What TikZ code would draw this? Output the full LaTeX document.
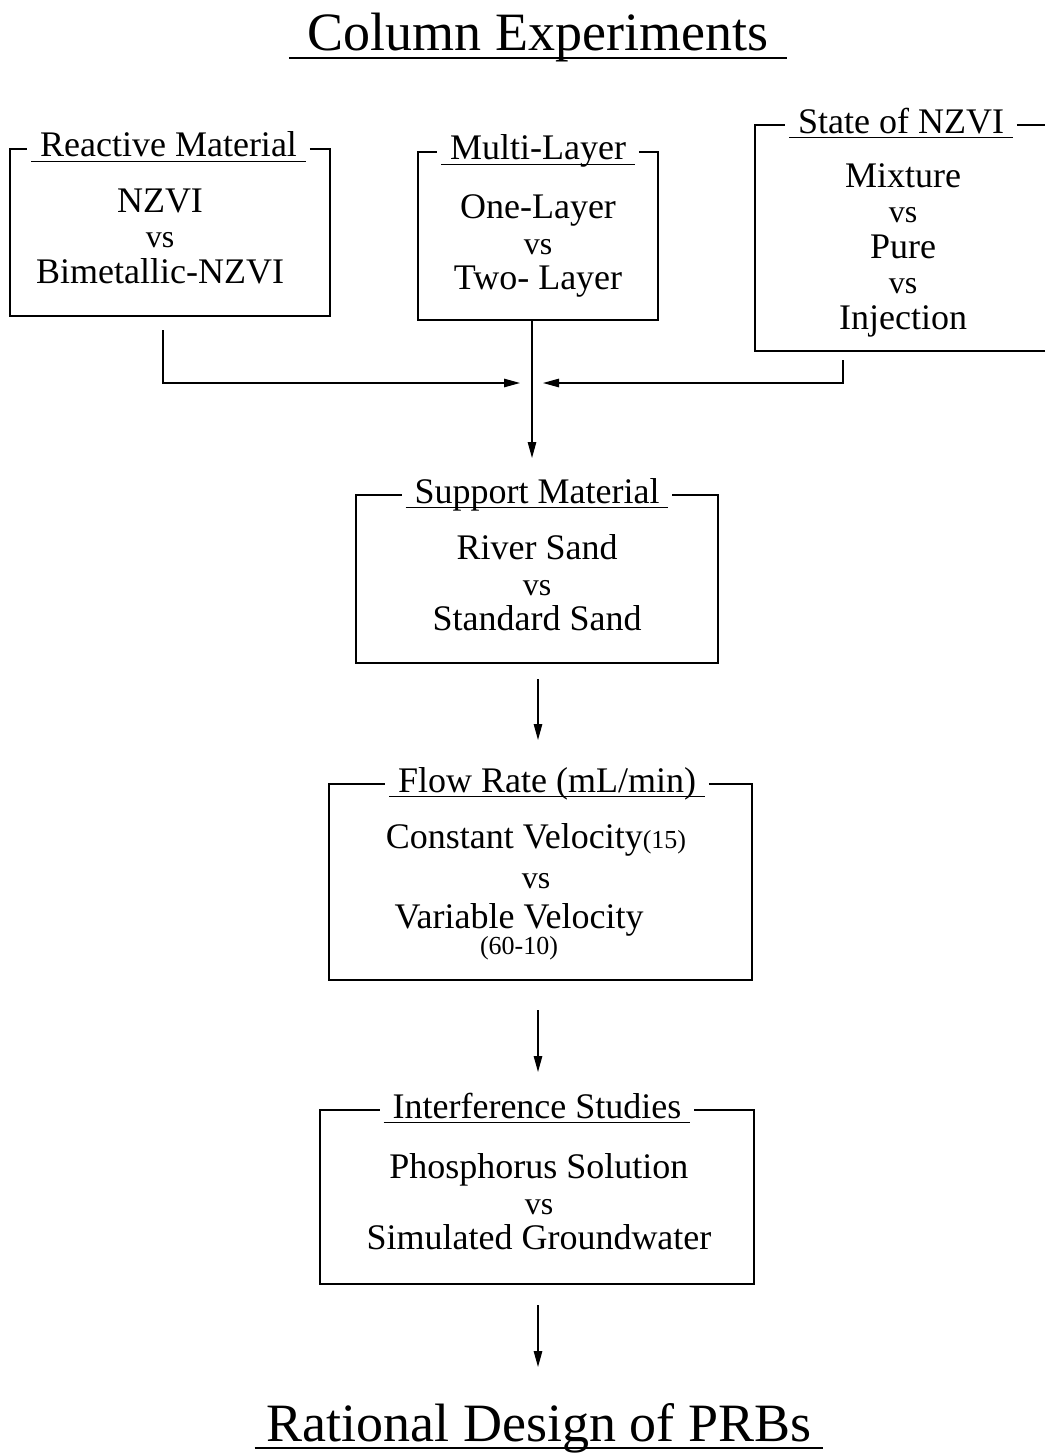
\documentclass[tikz,border=0pt]{standalone}
\usepackage{fontspec}
\setmainfont{Liberation Serif}
\usetikzlibrary{arrows.meta,calc,positioning}
\newcommand\vsline{{\fontsize{32}{35.5}\selectfont vs}}
\newcommand\smallnum[1]{{\fontsize{26}{26}\selectfont #1}}

\begin{document}
\begin{tikzpicture}[x=1pt, y=-1pt,
        box/.style 2 args={minimum width=#1, minimum height=#2, inner sep=0pt, outer sep=0pt},
        content/.style={align=center, inner sep=0pt, font=\fontsize{36}{35.5}\selectfont},
        heading/.style={anchor=base, inner xsep=9pt, inner ysep=0pt, outer xsep=4pt, font=\fontsize{36}{36}\selectfont},
        title/.style={anchor=base, inner xsep=16pt, inner ysep=0pt, outer sep=0pt, font=\fontsize{54}{54}\selectfont},
        frame/.style={line width=1.4pt},
        uline/.style={line width=1.4pt},
        arrow/.style={line width=1.2pt, -{Triangle[length=16pt, width=8.5pt]}}
    ]
        \useasboundingbox (0,0) rectangle (1045,1453);

        % Titles
        \node[title, inner xsep=19pt] (t0) at (538,51) {Column Experiments};
        \node[title, inner xsep=12pt] (t7) at (539,1441) {Rational Design of PRBs};

        % Boxes
        \node[box={320}{167}] (b1) at (170,232.5) {};
        \node[box={240}{168}] (b2) at (538,236) {};
        \node[box={290}{226}] (b3) at (900,238) {};
        \node[box={362}{168}] (b4) at (537,579) {};
        \node[box={423}{196}] (b5) at (540.5,882) {};
        \node[box={434}{174}] (b6) at (537,1197) {};

        % Headings on the top edges
        \node[heading] (l1) at ([xshift=-1.5pt,yshift=-8pt]b1.north) {Reactive Material};
        \node[heading] (l2) at ([yshift=-8pt]b2.north) {Multi-Layer};
        \node[heading] (l3) at ([xshift=1pt,yshift=-8pt]b3.north) {State of NZVI};
        \node[heading] (l4) at ([yshift=-8pt]b4.north) {Support Material};
        \node[heading] (l5) at ([xshift=6.5pt,yshift=-8pt]b5.north) {Flow Rate (mL/min)};
        \node[heading] (l6) at ([yshift=-8pt]b6.north) {Interference Studies};

        % Box contents
        \node[content] (c1) at (160,236) {NZVI\\\vsline\\Bimetallic-NZVI};
        \node[content] (c2) at (538,246) {One-Layer\\\vsline\\Two- Layer};
        \node[content] (c3) at (903,250) {Mixture\\\vsline\\Pure\\\vsline\\Injection};
        \node[content] (c4) at (537,583) {River Sand\\\vsline\\Standard Sand};
        \node[content] (c5) at (536,892) {Constant Velocity\smallnum{(15)}\\[4.5pt]\vsline\\[4.5pt]
            Variable Velocity\kern34pt\\[-10pt]\smallnum{(60-10)}\kern34pt};
        \node[content] (c6) at (539,1202) {Phosphorus Solution\\\vsline\\Simulated Groundwater};

        % Frames with a gap for the heading
        \foreach \i in {1,2,4,5,6}
            \draw[frame] (l\i.east |- b\i.north) -- (b\i.north east) -- (b\i.south east)
                -- (b\i.south west) -- (b\i.north west) -- (l\i.west |- b\i.north);
        \draw[frame] (l3.east |- b3.north) -- (b3.north east);
        \draw[frame] (b3.south east) -- (b3.south west) -- (b3.north west) -- (l3.west |- b3.north);

        % Underlines
        \foreach \n in {l1,l2,l3,l4,l5,l6}
            \draw[uline] ([shift={(4pt,-4.5pt)}]\n.base west) -- ([shift={(-4pt,-4.5pt)}]\n.base east);
        \foreach \n in {t0,t7}
            \draw[uline] ([yshift=-7pt]\n.base west) -- ([yshift=-7pt]\n.base east);

        % Connectors
        \coordinate (j) at (532,383);
        \draw[arrow] ([xshift=-7pt,yshift=-14pt]b1.south) |- ([xshift=-12pt]j);
        \draw[arrow] ([xshift=-57pt,yshift=-9pt]b3.south) |- ([xshift=11pt]j);
        \draw[arrow] (b2.south -| j) -- ($(j |- b4.north)+(0,-37)$);
        \draw[arrow] ($(b4.south)+(1,16)$) -- ($(b4.south |- b5.north)+(1,-44)$);
        \draw[arrow] ($(b5.south)+(-2.5,30)$) -- ($(b5.south |- b6.north)+(-2.5,-38)$);
        \draw[arrow] ($(b6.south)+(1,21)$) -- ($(b6.south)+(1,83)$);

    \end{tikzpicture}
\end{document}
